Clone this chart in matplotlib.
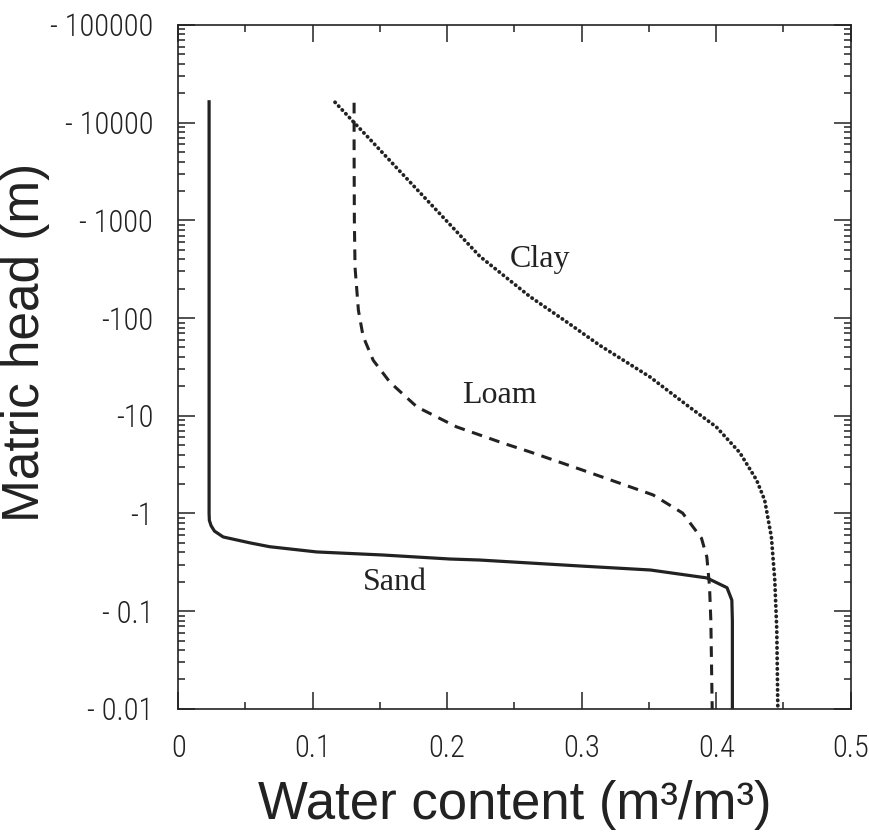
import matplotlib
matplotlib.use("Agg")
import matplotlib.pyplot as plt
from matplotlib import font_manager as fm
from matplotlib.ticker import FixedLocator, LogLocator, NullFormatter, MultipleLocator

# --- data (water content, |matric head| in m) ---
sand_theta = [0.023, 0.023, 0.0232, 0.0245, 0.027, 0.0335, 0.0535, 0.068, 0.103, 0.152,
              0.202, 0.224, 0.299, 0.351, 0.393, 0.408, 0.4116, 0.412, 0.412]
sand_head = [17000, 1.0, 0.85, 0.75, 0.66, 0.575, 0.50, 0.457, 0.404, 0.376,
             0.342, 0.334, 0.29, 0.264, 0.219, 0.174, 0.13, 0.08, 0.01]

loam_theta = [0.1308, 0.1308, 0.131, 0.1315, 0.134, 0.1375, 0.145, 0.1575, 0.1776, 0.207,
              0.2415, 0.2615, 0.30, 0.353, 0.375, 0.389, 0.393, 0.395, 0.396, 0.397]
loam_head = [16000, 5000, 1000, 330, 120, 65, 37, 22, 12.3, 7.7,
             5.25, 4.27, 2.8, 1.55, 1.01, 0.56, 0.36, 0.18, 0.08, 0.01]

clay_theta = [0.1166, 0.130, 0.1426, 0.1627, 0.1746, 0.2117, 0.2244, 0.2615, 0.29, 0.3135,
              0.3507, 0.380, 0.400, 0.4175, 0.430, 0.436, 0.441, 0.4435, 0.445, 0.4458]
clay_head = [16200, 10300, 6760, 3420, 2290, 655, 427, 166, 89, 52.5,
             25, 12.3, 7.7, 4.2, 2.2, 1.37, 0.575, 0.21, 0.065, 0.01]

y_ticks = [0.01, 0.1, 1, 10, 100, 1000, 10000, 100000]
y_labels = ["- 0.01", "- 0.1", "-1", "-10", "-100", "- 1000", "- 10000", "- 100000"]
x_ticks = [0, 0.1, 0.2, 0.3, 0.4, 0.5]
x_labels = ["0", "0.1", "0.2", "0.3", "0.4", "0.5"]

# pick a narrow sans for tick labels if one is around
have = {f.name for f in fm.fontManager.ttflist}
narrow = [n for n in ["Roboto Condensed", "Arial Narrow", "Liberation Sans Narrow",
                      "Open Sans Condensed", "PT Sans Narrow", "Archivo Narrow",
                      "Encode Sans Condensed"] if n in have]
tick_font = narrow[:1] + ["Liberation Sans", "DejaVu Sans"]
label_font = ["Liberation Sans", "DejaVu Sans"]
serif_font = ["Liberation Serif", "DejaVu Serif"]
ink = "#222222"

fig = plt.figure(figsize=(8.69, 8.33), dpi=100)
ax = fig.add_axes([0.205, 0.149, 0.774, 0.821])

ax.plot(sand_theta, sand_head, color=ink, lw=2.3, solid_capstyle="butt")
ax.plot(loam_theta, loam_head, color=ink, lw=2.2, linestyle=(0, (3.5, 2.5)))
ax.plot(clay_theta, clay_head, color=ink, lw=2.7, linestyle=(0, (0.1, 1.3)),
        dash_capstyle="round")

ax.set_yscale("log")
ax.set_xlim(0, 0.5)
ax.set_ylim(0.01, 100000)

ax.yaxis.set_major_locator(FixedLocator(y_ticks))
ax.set_yticklabels(y_labels)
ax.yaxis.set_minor_locator(LogLocator(base=10, subs=range(2, 10)))
ax.yaxis.set_minor_formatter(NullFormatter())
ax.set_xticks(x_ticks)
ax.set_xticklabels(x_labels)
ax.xaxis.set_minor_locator(MultipleLocator(0.05))

tsize = 22 if narrow else 20
ax.tick_params(which="both", direction="in", top=True, right=True, color=ink)
ax.tick_params(which="major", length=12, width=1.1, pad=18, labelsize=tsize)
ax.tick_params(which="minor", length=5, width=1.1)
for lab in ax.get_xticklabels() + ax.get_yticklabels():
    lab.set_family(tick_font)
    lab.set_fontweight("light")
    lab.set_color(ink)

for sp in ax.spines.values():
    sp.set_linewidth(1.2)
    sp.set_color(ink)

# axis titles placed where the reference has them
fig.text(515 / 869, 1 - 805 / 833, "Water content (m³/m³)", fontsize=38,
         family=label_font, color=ink, ha="center", va="center")
fig.text(26 / 869, 1 - 342 / 833, "Matric head (m)", fontsize=37, rotation=90,
         family=label_font, color=ink, ha="center", va="center")

ax.text(0.269, 394, "Clay", fontsize=23, family=serif_font, ha="center", va="center", color=ink)
ax.text(0.239, 16.3, "Loam", fontsize=23, family=serif_font, ha="center", va="center", color=ink)
ax.text(0.161, 0.195, "Sand", fontsize=23, family=serif_font, ha="center", va="center", color=ink)

fig.savefig("out.png", dpi=100, facecolor="white")
